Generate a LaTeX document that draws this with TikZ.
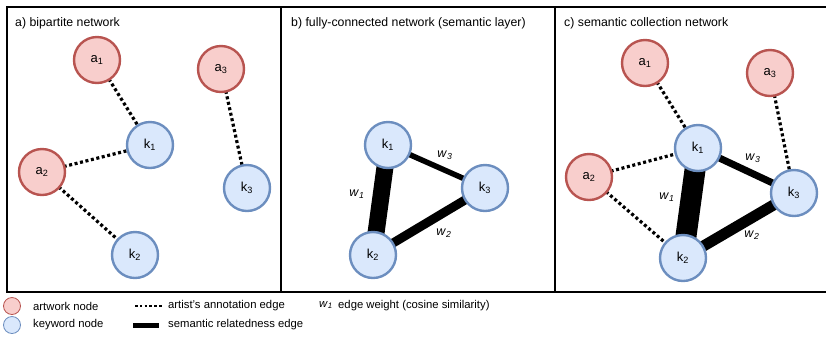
\documentclass[tikz,border=0pt]{standalone}
\usepackage{fontspec}
\setmainfont{Liberation Sans}
\usetikzlibrary{backgrounds}
\definecolor{redfill}{HTML}{F8CECC}
\definecolor{redline}{HTML}{B85450}
\definecolor{bluefill}{HTML}{DAE8FC}
\definecolor{blueline}{HTML}{6C8EBF}
\tikzset{
  anode/.style={circle, draw=redline, fill=redfill, line width=2.4pt, minimum size=46pt, inner sep=0pt, font=\fontsize{13}{14}\selectfont},
  knode/.style={circle, draw=blueline, fill=bluefill, line width=2.4pt, minimum size=46pt, inner sep=0pt, font=\fontsize{13}{14}\selectfont},
  annot/.style={line width=3.2pt, dash pattern=on 3pt off 2.6pt},
  sem/.style={line width=#1},
  title/.style={anchor=west, font=\fontsize{12.3}{14}\selectfont, inner sep=0pt},
  wlab/.style={font=\fontsize{12.5}{14}\selectfont, inner sep=1pt},
  legtext/.style={anchor=west, font=\fontsize{11.3}{13}\selectfont, inner sep=0pt},
  legcirc/.style={circle, line width=0.8pt, minimum size=17pt, inner sep=0pt},
}
\newcommand{\wlabel}[1]{\textit{w}\textsubscript{\textit{#1}}}
\newcommand{\sublab}[2]{#1\textsubscript{#2}}
\begin{document}
\begin{tikzpicture}[x=1pt,y=-1pt]
\useasboundingbox (0,0) rectangle (826,341);
% frame
\draw[line width=1.5pt] (826,7) -- (7,7) -- (7,292) -- (826,292);
\draw[line width=1.5pt] (281,7) -- (281,292);
\draw[line width=1.5pt] (555,7) -- (555,292);
% titles
\node[title] (ta) at (15,23) {a) bipartite network};
\node[title] (tb) at (291,23) {b) fully-connected network (semantic layer)};
\node[title] (tc) at (564,23) {c) semantic collection network};
% panel a
\node[anode] (aa1) at (97,60) {\sublab{a}{1}};
\node[anode] (aa3) at (221,69) {\sublab{a}{3}};
\node[anode] (aa2) at (42,172) {\sublab{a}{2}};
\node[knode] (ak1) at (150,145) {\sublab{k}{1}};
\node[knode] (ak3) at (247,188) {\sublab{k}{3}};
\node[knode] (ak2) at (135,255) {\sublab{k}{2}};
\begin{scope}[on background layer]
\draw[annot] (aa1.center) -- (ak1.center);
\draw[annot] (aa2.center) -- (ak1.center);
\draw[annot] (aa2.center) -- (ak2.center);
\draw[annot] (aa3.center) -- (ak3.center);
\end{scope}
% panel b
\node[knode] (bk1) at (388,145) {\sublab{k}{1}};
\node[knode] (bk3) at (485,188) {\sublab{k}{3}};
\node[knode] (bk2) at (373,255) {\sublab{k}{2}};
\begin{scope}[on background layer]
\draw[sem=17pt] (bk1.center) -- (bk2.center);
\draw[sem=9pt] (bk2.center) -- (bk3.center);
\draw[sem=5.5pt] (bk1.center) -- (bk3.center);
\end{scope}
\node[wlab] (bw1) at (357,194) {\wlabel{1}};
\node[wlab] (bw2) at (444,233) {\wlabel{2}};
\node[wlab] (bw3) at (445,155) {\wlabel{3}};
% panel c
\node[anode] (ca1) at (645,63) {\sublab{a}{1}};
\node[anode] (ca3) at (770,73) {\sublab{a}{3}};
\node[anode] (ca2) at (589,177) {\sublab{a}{2}};
\node[knode] (ck1) at (698,148) {\sublab{k}{1}};
\node[knode] (ck3) at (794,193) {\sublab{k}{3}};
\node[knode] (ck2) at (683,258) {\sublab{k}{2}};
\begin{scope}[on background layer]
\draw[annot] (ca1.center) -- (ck1.center);
\draw[annot] (ca2.center) -- (ck1.center);
\draw[annot] (ca2.center) -- (ck2.center);
\draw[annot] (ca3.center) -- (ck3.center);
\draw[sem=21pt] (ck1.center) -- (ck2.center);
\draw[sem=11pt] (ck2.center) -- (ck3.center);
\draw[sem=7pt] (ck1.center) -- (ck3.center);
\end{scope}
\node[wlab] (cw1) at (667,197) {\wlabel{1}};
\node[wlab] (cw2) at (752,235) {\wlabel{2}};
\node[wlab] (cw3) at (753,158) {\wlabel{3}};
% legend
\node[legcirc, draw=redline, fill=redfill] (lga) at (12,306) {};
\node[legtext] (lta) at (33,306) {artwork node};
\node[legcirc, draw=blueline, fill=bluefill] (lgk) at (12,325) {};
\node[legtext] (ltk) at (33,325) {keyword node};
\coordinate (ld1) at (135,306);
\coordinate (ld2) at (162,306);
\draw[line width=2.5pt, dash pattern=on 2.5pt off 2.3pt] (ld1) -- (ld2);
\node[legtext] (ltd) at (168,306) {artist's annotation edge};
\coordinate (ls1) at (133,325);
\coordinate (ls2) at (159,325);
\draw[line width=5pt] (ls1) -- (ls2);
\node[legtext] (lts) at (168,325) {semantic relatedness edge};
\node[legtext, inner sep=0pt] (lw) at (319,305) {\wlabel{1}};
\node[legtext] (ltw) at (338,306) {edge weight (cosine similarity)};
\end{tikzpicture}
\end{document}
